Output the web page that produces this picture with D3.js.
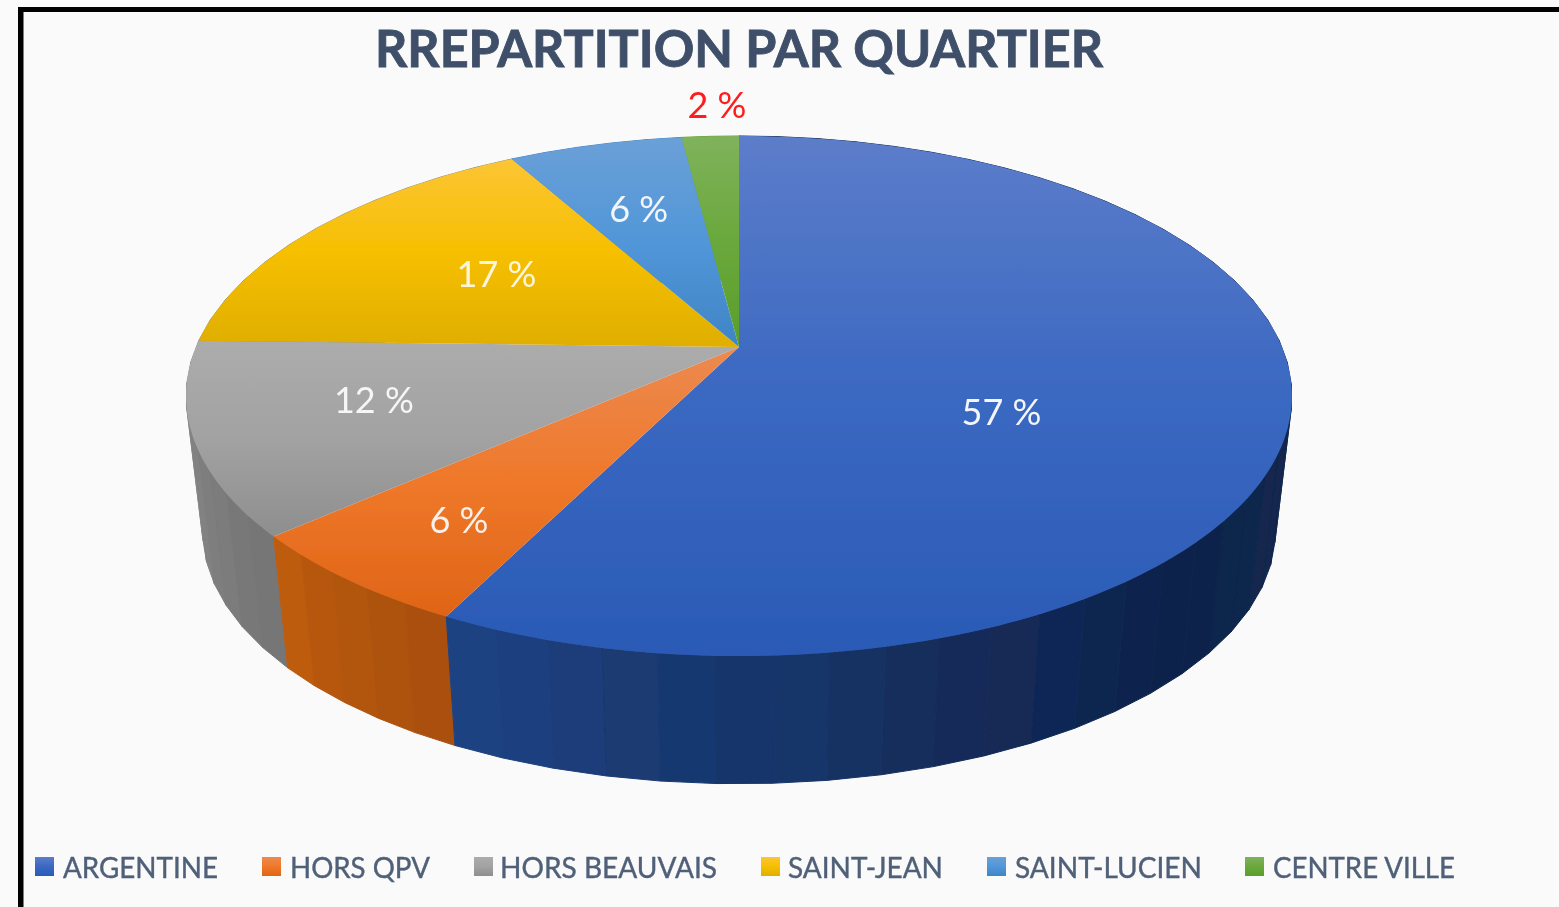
<!DOCTYPE html>
<html><head><meta charset="utf-8">
<script src="https://cdn.jsdelivr.net/npm/d3@7/dist/d3.min.js"></script>
<style>html,body{margin:0;padding:0;background:#fff}svg{display:block}</style>
</head><body><svg id="c" width="1559" height="907"></svg>
<script>
const titleText = "RREPARTITION PAR QUARTIER";
const categories = ["ARGENTINE","HORS QPV","HORS BEAUVAIS","SAINT-JEAN","SAINT-LUCIEN","CENTRE VILLE"];
const values = [57.4,6.1,11.9,16.5,6.1,2.0];
const valueLabels = ["57 %","6 %","12 %","17 %","6 %","2 %"];
const topLight = ["#5c7dca","#ec8a50","#acacac","#fcc535","#6ba0d8","#80b25c"];
const topMid   = ["#3a68c1","#ef782a","#a2a2a2","#f6bf00","#5196d8","#6aa83c"];
const topDark  = ["#2a5ab6","#df6416","#8e8e8e","#dfae00","#3f85c6","#5a9e2a"];
const sideRamps = [
  ["#13294f","#13294f","#0f2349","#102550","#153060","#1a3a72","#1f4484"],
  ["#a84f0d","#ad520f","#b65710","#c05c12"],
  ["#757575","#7c7c7c","#878787","#939393"],
  ["#8a8a8a"],["#4585c6"],["#5f9e2e"]
];
const labelColors = ["#f4f6fa","#f8f0ea","#f6f6f6","#fdf6dd","#f2f6fb","#ff1a1a"];

const W=1559,H=907, svg=d3.select("#c");
const FONT="Lato, 'Open Sans', sans-serif";
const apex={x:739,y:347}, B=543, A=250.8, k=0.1885, depthScale=0.97, baseY=484, facetDeg=5;

const defs=svg.append("defs");
const blur=defs.append("filter").attr("id","soft").attr("x","-5%").attr("y","-20%").attr("width","110%").attr("height","140%");
blur.append("feGaussianBlur").attr("stdDeviation",0.7);
const edgeBlur=defs.append("filter").attr("id","edge").attr("filterUnits","userSpaceOnUse").attr("x",0).attr("y",0).attr("width",W).attr("height",H);
edgeBlur.append("feGaussianBlur").attr("stdDeviation",0.6);

function project(theta,r=1){
  const u=Math.sin(theta)*r, v=-Math.cos(theta)*r, d=1-k*v;
  return [apex.x+B*u/d, apex.y+A*v/d];
}
const lower=p=>[apex.x+depthScale*(p[0]-apex.x), baseY+depthScale*(p[1]-apex.y)];
const line=d3.line();

svg.append("rect").attr("width",W).attr("height",H).attr("fill","#fafafa");

const arcs=d3.pie().sort(null).value(d=>d)(values);
const grads=defs.selectAll("linearGradient").data(categories).join("linearGradient")
  .attr("id",(d,i)=>"g"+i).attr("x1",0).attr("x2",0).attr("y1",0).attr("y2",1);
grads.append("stop").attr("offset",0).attr("stop-color",(d,i)=>topLight[i]);
grads.append("stop").attr("offset",0.5).attr("stop-color",(d,i)=>topMid[i]);
grads.append("stop").attr("offset",1).attr("stop-color",(d,i)=>topDark[i]);

// side facets
const facets=[];
arcs.forEach((a,i)=>{
  const n=Math.max(1,Math.ceil((a.endAngle-a.startAngle)/(facetDeg*Math.PI/180)));
  const ts=d3.range(n+1).map(j=>a.startAngle+(a.endAngle-a.startAngle)*j/n);
  const vis0=Math.max(a.startAngle,Math.PI/2);
  const ramp=sideRamps[i].length>1?d3.interpolateRgbBasis(sideRamps[i]):()=>sideRamps[i][0];
  d3.pairs(ts).forEach(([t0,t1],j)=>{
    const mid=(t0+t1)/2;
    const f=(mid-vis0)/(a.endAngle-vis0);
    const band=[0.015,-0.01,0.005,-0.015,0.01][j%5];
    facets.push({i,t0,t1,v:-Math.cos(mid),color:ramp(Math.max(0,Math.min(1,f+band)))});
  });
});
facets.sort((a,b)=>a.v-b.v);
const g=svg.append("g").attr("filter","url(#edge)");
g.append("g").selectAll("path").data(facets).join("path")
  .attr("d",d=>{const a=project(d.t0),b=project(d.t1);return line([a,b,lower(b),lower(a)])+"Z";})
  .attr("fill",d=>d.color).attr("stroke",d=>d.color).attr("stroke-width",1);

// top face
g.append("g").selectAll("path").data(arcs).join("path")
  .attr("d",a=>{
    const n=Math.ceil((a.endAngle-a.startAngle)/(Math.PI/180));
    const pts=d3.range(n+1).map(j=>project(a.startAngle+(a.endAngle-a.startAngle)*j/n));
    return line([[apex.x,apex.y],...pts])+"Z";
  })
  .attr("fill",(a,i)=>`url(#g${i})`);

// frame
svg.append("rect").attr("x",18).attr("y",7).attr("width",W).attr("height",5).attr("fill","#000");
svg.append("rect").attr("x",18).attr("y",7).attr("width",5.5).attr("height",H).attr("fill","#000");

// title
svg.append("text").text(titleText).attr("x",375).attr("y",67)
  .attr("font-family",FONT).attr("font-weight",700).attr("font-size",52)
  .attr("textLength",728).attr("lengthAdjust","spacingAndGlyphs")
  .attr("fill","#3f5069").attr("stroke","#3f5069").attr("stroke-width",0.9).attr("filter","url(#soft)");

// value labels
const labelRadius=[0.7,0.7,0.7,0.7,0.7,1.1];
const labelNudge=[[-119,24],[-21,19],[9,-9],[62,13],[5,11],[9,-13]];
svg.append("g").selectAll("text").data(arcs).join("text")
  .text((a,i)=>valueLabels[i])
  .attr("x",(a,i)=>project((a.startAngle+a.endAngle)/2,labelRadius[i])[0]+labelNudge[i][0])
  .attr("y",(a,i)=>project((a.startAngle+a.endAngle)/2,labelRadius[i])[1]+labelNudge[i][1]+12)
  .attr("text-anchor","middle").attr("font-family",FONT).attr("font-size",36)
  .attr("fill",(a,i)=>labelColors[i]).attr("filter","url(#soft)");

// legend
const legendX=[35,262,474,761,987,1245], legendTextX=[63,290,500,788,1015,1273], legendW=[155,140,217,155,187,182];
const lg=svg.append("g").selectAll("g").data(categories).join("g");
lg.append("rect").attr("x",(d,i)=>legendX[i]).attr("y",857).attr("width",19).attr("height",19)
  .attr("fill",(d,i)=>`url(#g${i})`).attr("filter","url(#edge)");
lg.append("text").text(d=>d).attr("x",(d,i)=>legendTextX[i]).attr("y",878)
  .attr("font-family",FONT).attr("font-size",29).attr("fill","#4f6078")
  .attr("stroke","#4f6078").attr("stroke-width",0.4)
  .attr("textLength",(d,i)=>legendW[i]).attr("lengthAdjust","spacingAndGlyphs")
  .attr("filter","url(#soft)");
</script></body></html>
